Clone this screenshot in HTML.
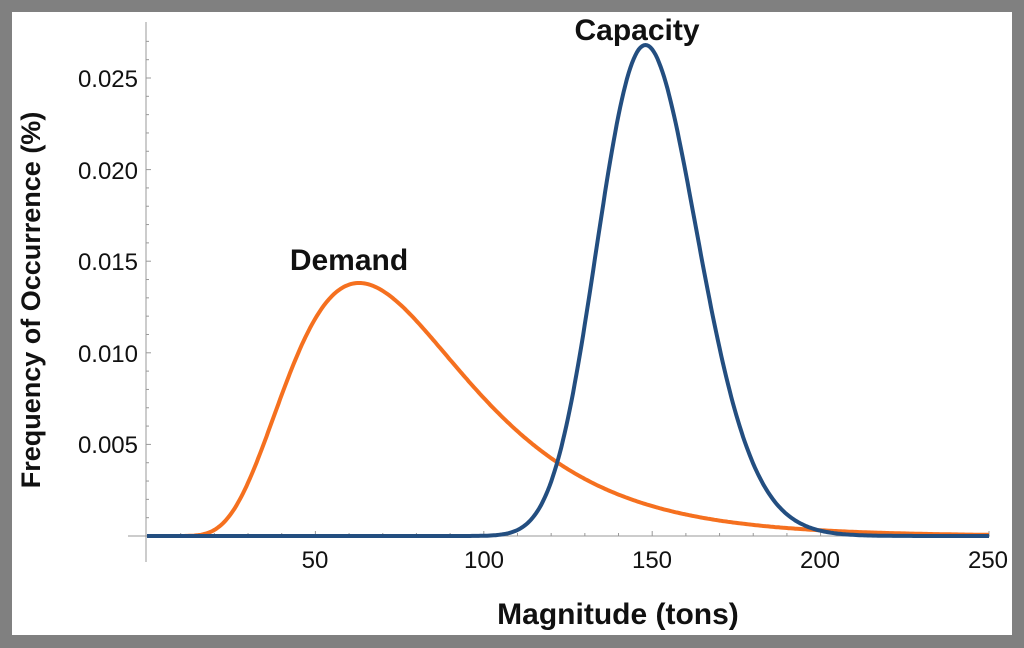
<!DOCTYPE html>
<html><head><meta charset="utf-8"><style>
html,body{margin:0;padding:0;background:#808080;}
svg{display:block;font-family:"Liberation Sans",Arial,sans-serif;}
</style></head><body>
<svg id="s" width="1024" height="648" xmlns="http://www.w3.org/2000/svg">
<rect x="0" y="0" width="1024" height="648" fill="#808080"/>
<rect x="12" y="12" width="1000" height="623" fill="#ffffff"/>
<g id="axes" stroke="#999" stroke-width="1"></g>
<g font-size="24" fill="#111" text-anchor="end">
<text x="138" y="87">0.025</text>
<text x="138" y="179">0.020</text>
<text x="138" y="270">0.015</text>
<text x="138" y="362">0.010</text>
<text x="138" y="453">0.005</text>
</g>
<g font-size="24" fill="#111" text-anchor="middle">
<text x="315" y="568">50</text>
<text x="484" y="568">100</text>
<text x="652" y="568">150</text>
<text x="820" y="568">200</text>
<text x="988" y="568">250</text>
</g>
<path id="dem" fill="none" stroke="#f5701f" stroke-width="4"/>
<path id="cap" fill="none" stroke="#234e80" stroke-width="4"/>
<text x="349" y="270" font-size="30" font-weight="bold" text-anchor="middle" fill="#111">Demand</text>
<text x="637" y="40" font-size="30" font-weight="bold" text-anchor="middle" fill="#111">Capacity</text>
<text x="618" y="624" font-size="30" font-weight="bold" text-anchor="middle" fill="#111">Magnitude (tons)</text>
<text transform="translate(40,300) rotate(-90)" font-size="27" font-weight="bold" text-anchor="middle" fill="#111">Frequency of Occurrence (%)</text>
</svg>
<script>
var X=function(v){return 147+v*3.368;},Y=function(v){return 536-v*18320;};
var ax=document.getElementById('axes'),h='';
h+='<line x1="146" y1="22" x2="146" y2="562"/>';
h+='<line x1="128" y1="536" x2="990" y2="536"/>';
for(var i=1;i<=27;i++){var y=Y(i*0.001);h+='<line x1="146" y1="'+y+'" x2="'+(i%5==0?151:149)+'" y2="'+y+'"/>';}
for(var i=10;i<=250;i+=10){var x=X(i);h+='<line x1="'+x+'" y1="536" x2="'+x+'" y2="'+(i%50==0?531:533)+'"/>';}
ax.innerHTML=h;
var d='',c='',mu=4.319,s=0.42,cs=0.1;
for(var x=0;x<=250;x+=0.5){
 var dv=x>0?Math.exp(-Math.pow(Math.log(x)-mu,2)/(2*s*s))/(x*s*2.5066):0;
 var cv=x>0?0.0268*Math.exp(-Math.pow(Math.log(x/148),2)/(2*cs*cs)):0;
 d+=(x==0?'M':'L')+X(x).toFixed(1)+','+Y(dv).toFixed(1);
 c+=(x==0?'M':'L')+X(x).toFixed(1)+','+Y(cv).toFixed(1);
}
document.getElementById('cap').setAttribute('d',c);
document.getElementById('dem').setAttribute('d',d);
</script>
</body></html>
